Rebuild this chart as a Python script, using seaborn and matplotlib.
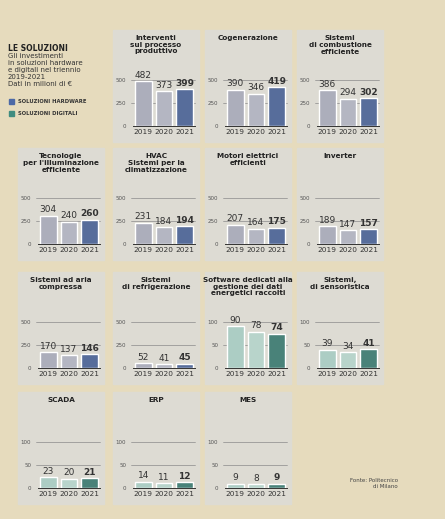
import pandas as pd
import seaborn as sns
import matplotlib.pyplot as plt
from matplotlib.patches import Rectangle

years = ["2019", "2020", "2021"]

hw_titles = ["Interventi\nsul processo\nproduttivo", "Cogenerazione",
             "Sistemi\ndi combustione\nefficiente",
             "Tecnologie\nper l'illuminazione\nefficiente",
             "HVAC\nSistemi per la\nclimatizzazione",
             "Motori elettrici\nefficienti", "Inverter",
             "Sistemi ad aria\ncompressa", "Sistemi\ndi refrigerazione"]
hw_values = [[482, 373, 399], [390, 346, 419], [386, 294, 302],
             [304, 240, 260], [231, 184, 194], [207, 164, 175],
             [189, 147, 157], [170, 137, 146], [52, 41, 45]]
hw_ticks = [0, 250, 500]

dg_titles = ["Software dedicati alla\ngestione dei dati\nenergetici raccolti",
             "Sistemi,\ndi sensoristica", "SCADA", "ERP", "MES"]
dg_values = [[90, 78, 74], [39, 34, 41], [23, 20, 21], [14, 11, 12], [9, 8, 9]]
dg_ticks = [0, 50, 100]

hw_colors = ["#a9acbe", "#b2b4c4", "#4c69a6"]
dg_colors = ["#a6d3c6", "#b3d9cd", "#3f8c80"]

paper = "#e6dbbd"
panel = "#dddbd3"

W, H = 445, 519
col_x = [18, 113, 205, 297]
row_y = [30, 148, 272, 392]
pw, ph = 86, 112

slots = [(0, 1), (0, 2), (0, 3), (1, 0), (1, 1), (1, 2), (1, 3),
         (2, 0), (2, 1), (2, 2), (2, 3), (3, 0), (3, 1), (3, 2)]

sns.set_theme(style="white")
plt.rcParams['font.family'] = ['DejaVu Sans']

fig = plt.figure(figsize=(W / 100, H / 100), dpi=100)
fig.patch.set_facecolor(paper)


def box(x, y, w, h):
    return [x / W, 1 - (y + h) / H, w / W, h / H]


charts = ([(t, v, hw_ticks, hw_colors) for t, v in zip(hw_titles, hw_values)] +
          [(t, v, dg_ticks, dg_colors) for t, v in zip(dg_titles, dg_values)])

for (r, c), (title, vals, ticks, colors) in zip(slots, charts):
    x0, y0 = col_x[c], row_y[r]
    fig.patches.append(Rectangle((x0 / W, 1 - (y0 + ph) / H), pw / W, ph / H,
                                 transform=fig.transFigure, color=panel, zorder=-5))
    fig.text((x0 + pw / 2) / W, 1 - (y0 + 5) / H, title, ha="center", va="top",
             fontsize=5.2, fontweight="bold", color="#222222", linespacing=1.15)

    ax = fig.add_axes(box(x0 + 20, y0 + 44, pw - 24, ph - 60))
    ax.set_facecolor("none")
    df = pd.DataFrame({"anno": years, "valore": vals})
    sns.barplot(data=df, x="anno", y="valore", hue="anno", palette=colors,
                legend=False, width=0.8, ax=ax, zorder=3)
    top = ticks[-1]
    ax.set_ylim(0, top * 1.12)
    ax.set_yticks(ticks)
    ax.set_yticklabels([str(t) for t in ticks], fontsize=4, color="#555555")
    ax.tick_params(axis="y", length=0, pad=5)
    ax.tick_params(axis="x", length=0, pad=2, labelsize=5.3, labelcolor="#333333")
    for t in ticks[1:]:
        ax.axhline(t, color="#8a8a8a", lw=0.5, zorder=1, xmin=-0.04, clip_on=False)
    for s in ["top", "right", "left"]:
        ax.spines[s].set_visible(False)
    ax.spines["bottom"].set_color("#333333")
    ax.spines["bottom"].set_linewidth(0.7)
    ax.set_xlabel("")
    ax.set_ylabel("")
    for i, v in enumerate(vals):
        ax.text(i, v + top * 0.03, str(v), ha="center", va="bottom",
                fontsize=6.5, color="#333333",
                fontweight="bold" if i == 2 else "normal")

# legenda / intro
fig.text(8 / W, 1 - 44 / H, "LE SOLUZIONI", fontsize=5.5, fontweight="bold",
         color="#222222", va="top")
fig.text(8 / W, 1 - 53 / H,
         "Gli investimenti\nin soluzioni hardware\ne digitali nel triennio\n2019-2021\nDati in milioni di €",
         fontsize=5, color="#333333", va="top", linespacing=1.2)
for k, (lab, colr) in enumerate([("SOLUZIONI HARDWARE", hw_colors[2]),
                                 ("SOLUZIONI DIGITALI", dg_colors[2])]):
    yy = 100 + k * 12
    fig.patches.append(Rectangle((9 / W, 1 - (yy + 4) / H), 5 / W, 5 / H,
                                 transform=fig.transFigure, color=colr))
    fig.text(18 / W, 1 - (yy + 1.5) / H, lab, fontsize=3.8, fontweight="bold",
             color="#333333", va="center")

fig.text(398 / W, 1 - 478 / H, "Fonte: Politecnico\ndi Milano", fontsize=4,
         color="#444444", ha="right", va="top")

fig.savefig("out.png", dpi=100, facecolor=paper)
